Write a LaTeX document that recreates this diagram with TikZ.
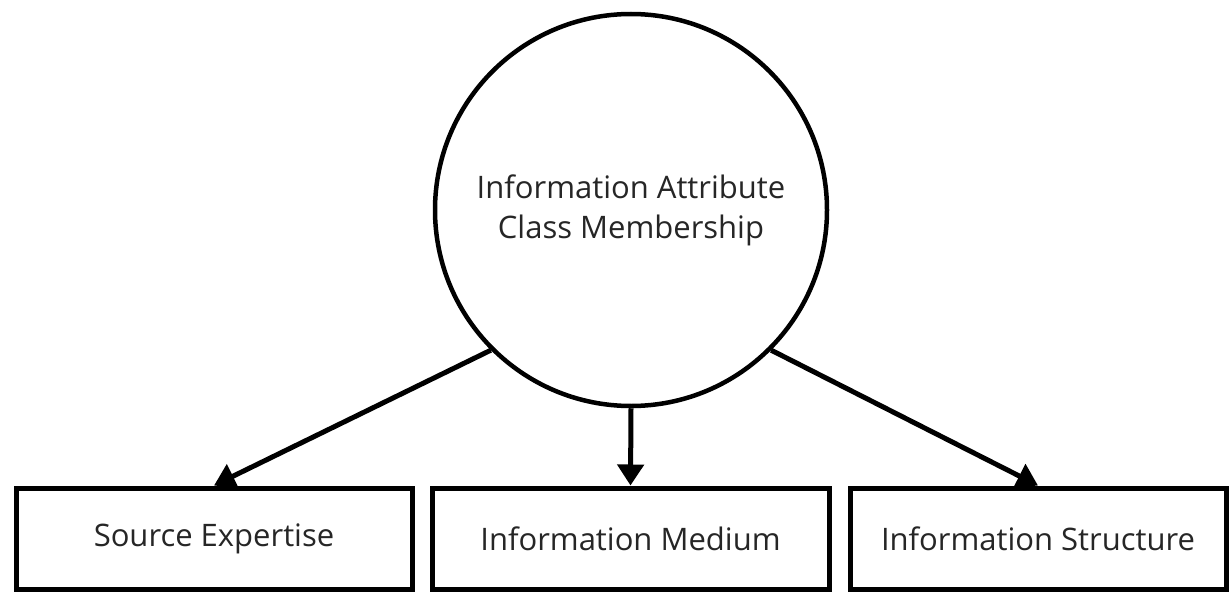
\documentclass[tikz,border=0pt]{standalone}
\usepackage{fontspec}
\setmainfont{Open Sans}
\usetikzlibrary{arrows.meta}
\begin{document}
\begin{tikzpicture}[x=1pt,y=-1pt,
  txt/.style={font=\fontsize{31}{40}\selectfont, text=black!85},
  entbox/.style={draw=black, line width=5pt, fill=white, minimum height=101pt, inner sep=0pt, txt},
  classcirc/.style={draw=black, circle, line width=4.5pt, minimum size=392pt, inner sep=0pt, align=center, txt},
  conn/.style={draw=black, line width=5pt, -{Triangle[width=26pt,length=21pt]}}
]
\useasboundingbox[fill=white] (0,0) rectangle (1232,594);
\node[classcirc] (c) at (631,210) {Information Attribute\\Class Membership};
\node[entbox, minimum width=396pt] (b1) at (214,538.5) {Source Expertise};
\node[entbox, minimum width=397pt] (b2) at (630.5,538.5) {Information Medium};
\node[entbox, minimum width=376pt] (b3) at (1038,538.5) {Information Structure};
\draw[conn] (c.south west) -- (b1.north);
\draw[conn] (c.south) -- (b2.north);
\draw[conn] (c.south east) -- (b3.north);
\end{tikzpicture}
\end{document}
